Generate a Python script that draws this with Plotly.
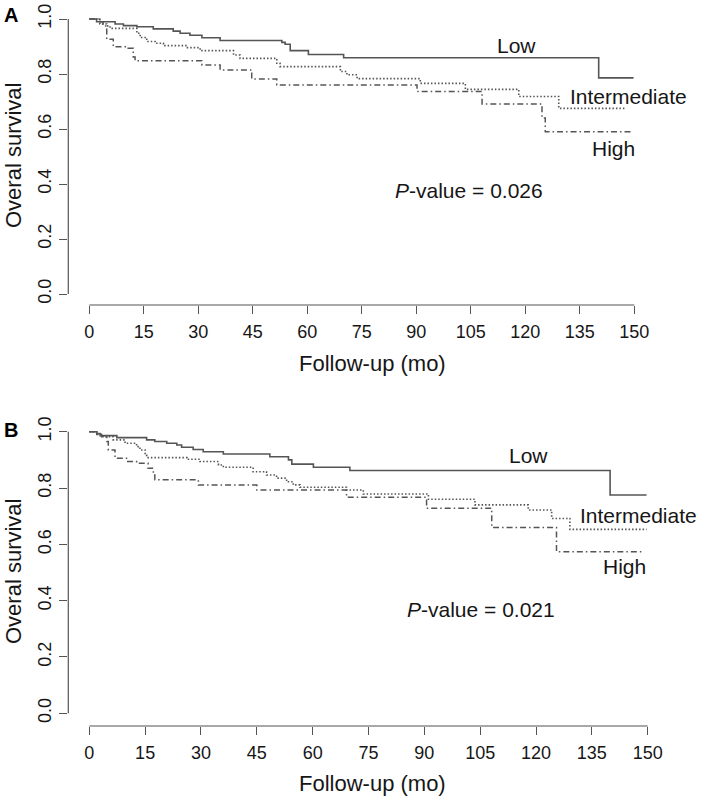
import plotly.graph_objects as go

W, H = 709, 798

# ---------------- data ----------------
# Panel A
a_low_t = [0, 2.0, 7.1, 9.4, 13.1, 17.6, 23.1, 25.0, 27.7, 31.0, 36.0, 53.0, 53.9, 55.3, 60.3, 70.0, 140.2, 149.8]
a_low_s = [1.0, 0.990, 0.982, 0.976, 0.972, 0.964, 0.956, 0.948, 0.941, 0.932, 0.922, 0.915, 0.908, 0.885, 0.871, 0.859, 0.786, 0.786]

a_int_t = [0, 2.9, 4.8, 5.7, 13.1, 14.0, 15.8, 18.1, 20.4, 26.8, 30.5, 39.7, 41.5, 51.6, 52.5, 69.1, 70.9, 73.7, 91.1, 103.5, 118.2, 129.2, 147.6]
a_int_s = [1.0, 0.982, 0.975, 0.966, 0.948, 0.933, 0.918, 0.912, 0.903, 0.896, 0.885, 0.869, 0.857, 0.839, 0.827, 0.809, 0.797, 0.783, 0.766, 0.744, 0.718, 0.675, 0.675]

a_high_t = [0, 2.9, 3.8, 4.8, 6.6, 10.7, 12.1, 12.6, 31.0, 36.0, 44.7, 51.6, 90.2, 108.1, 124.6, 125.5, 149.0]
a_high_s = [1.0, 0.990, 0.975, 0.926, 0.899, 0.894, 0.862, 0.848, 0.833, 0.815, 0.782, 0.760, 0.736, 0.691, 0.640, 0.590, 0.590]

# Panel B
b_low_t = [0, 2.0, 2.9, 7.4, 15.4, 17.6, 20.8, 23.5, 24.8, 27.9, 30.6, 36.0, 48.5, 53.5, 54.4, 60.2, 70.0, 139.9, 149.7]
b_low_s = [1.0, 0.993, 0.986, 0.979, 0.971, 0.965, 0.959, 0.953, 0.945, 0.937, 0.929, 0.921, 0.911, 0.900, 0.885, 0.874, 0.862, 0.775, 0.775]

b_int_t = [0, 2.0, 3.8, 6.4, 9.6, 12.7, 13.6, 15.0, 15.4, 26.2, 29.7, 34.7, 36.0, 44.0, 47.6, 50.3, 53.0, 54.8, 56.6, 69.1, 73.6, 91.1, 103.6, 117.9, 124.2, 129.1, 149.7]
b_int_s = [1.0, 0.990, 0.982, 0.971, 0.959, 0.947, 0.935, 0.917, 0.908, 0.902, 0.894, 0.882, 0.874, 0.858, 0.846, 0.835, 0.822, 0.811, 0.803, 0.793, 0.779, 0.760, 0.740, 0.722, 0.692, 0.653, 0.653]

b_high_t = [0, 2.0, 3.3, 4.7, 5.1, 6.9, 10.0, 12.7, 15.8, 17.2, 17.6, 29.3, 45.0, 69.1, 90.6, 108.1, 125.5, 148.4]
b_high_s = [1.0, 0.990, 0.982, 0.965, 0.935, 0.906, 0.894, 0.888, 0.870, 0.846, 0.829, 0.811, 0.793, 0.767, 0.728, 0.660, 0.574, 0.574]

x_ticks = [0, 15, 30, 45, 60, 75, 90, 105, 120, 135, 150]
y_ticks = [0.0, 0.2, 0.4, 0.6, 0.8, 1.0]
y_tick_text = ["0.0", "0.2", "0.4", "0.6", "0.8", "1.0"]
group_names = ["Low", "Intermediate", "High"]
p_values = ["0.026", "0.021"]
panel_letters = ["A", "B"]

# ---------------- geometry (pixels) ----------------
geom = [
    dict(t0=89.3, t150=634.3, s0=294.0, s1=19.0, yax_px=68.3, xax_py=305.0, right_px=642.0, top_py=13.0,
         lab=[(117.6, 0.905), (148.4, 0.717), (144.2, 0.530)], pv=(104.5, 0.378),
         ytitle_py=156, xtitle_py=363, letter_py=15),
    dict(t0=89.3, t150=647.7, s0=713.3, s1=431.7, yax_px=68.3, xax_py=726.0, right_px=656.0, top_py=426.0,
         lab=[(117.9, 0.915), (147.5, 0.704), (143.9, 0.521)], pv=(105.2, 0.369),
         ytitle_py=572, xtitle_py=783, letter_py=430),
]

FONT = "Liberation Sans, Arial, Helvetica, sans-serif"
TXT = "#161616"
AX = "#555555"
LINE = "#555555"

series = [
    [(a_low_t, a_low_s), (a_int_t, a_int_s), (a_high_t, a_high_s)],
    [(b_low_t, b_low_s), (b_int_t, b_int_s), (b_high_t, b_high_s)],
]
dashes = ["solid", "1.5px,2px", "6px,3px,1.5px,3px"]
widths = [1.6, 1.6, 1.5]

fig = go.Figure()
annotations = []
shapes = []
layout_axes = {}

for i, g in enumerate(geom):
    xs = "x" if i == 0 else "x2"
    ys = "y" if i == 0 else "y2"
    xk = "xaxis" if i == 0 else "xaxis2"
    yk = "yaxis" if i == 0 else "yaxis2"
    kx = (g["t150"] - g["t0"]) / 150.0
    ky = (g["s0"] - g["s1"])
    xr = [(g["yax_px"] - g["t0"]) / kx, (g["right_px"] - g["t0"]) / kx]
    yr = [(g["s0"] - g["xax_py"]) / ky, (g["s0"] - g["top_py"]) / ky]
    xd = [g["yax_px"] / W, g["right_px"] / W]
    yd = [1 - g["xax_py"] / H, 1 - g["top_py"] / H]

    for j, (t, s) in enumerate(series[i]):
        fig.add_trace(go.Scatter(
            x=t, y=s, mode="lines", line_shape="hv",
            line=dict(color=LINE, width=widths[j], dash=dashes[j]),
            xaxis=xs, yaxis=ys, showlegend=False, hoverinfo="skip"))

    layout_axes[xk] = dict(
        domain=xd, range=xr, anchor=ys, showgrid=False, zeroline=False, showline=False,
        ticks="outside", ticklen=8, tickwidth=1, tickcolor=AX,
        tickvals=x_ticks, ticktext=[str(v) for v in x_ticks],
        tickfont=dict(family=FONT, size=18, color=TXT), automargin=False,
        ticklabelstandoff=2, fixedrange=True)
    layout_axes[yk] = dict(
        domain=yd, range=yr, anchor=xs, showgrid=False, zeroline=False, showline=False,
        ticks="outside", ticklen=8, tickwidth=1, tickcolor=AX,
        tickvals=y_ticks, ticktext=y_tick_text, tickangle=-90,
        tickfont=dict(family=FONT, size=18, color=TXT), automargin=False,
        ticklabelstandoff=1, fixedrange=True)

    # R-style detached axis lines spanning the tick range only
    shapes.append(dict(type="line", xref=xs, yref="paper", x0=x_ticks[0], x1=x_ticks[-1],
                       y0=yd[0], y1=yd[0], line=dict(color=AX, width=1.2)))
    shapes.append(dict(type="line", xref="paper", yref=ys, x0=xd[0], x1=xd[0],
                       y0=y_ticks[0], y1=y_ticks[-1], line=dict(color=AX, width=1.2)))

    # group labels
    for name, (lx, ly) in zip(group_names, g["lab"]):
        annotations.append(dict(text=name, x=lx, y=ly, xref=xs, yref=ys, showarrow=False,
                                xanchor="center", yanchor="middle",
                                font=dict(family=FONT, size=21, color=TXT)))
    annotations.append(dict(text="<i>P</i>-value = " + p_values[i], x=g["pv"][0], y=g["pv"][1],
                            xref=xs, yref=ys, showarrow=False, xanchor="center", yanchor="middle",
                            font=dict(family=FONT, size=21, color=TXT)))
    # axis titles
    annotations.append(dict(text="Overal survival", x=13 / W, y=1 - g["ytitle_py"] / H,
                            xref="paper", yref="paper", showarrow=False, textangle=-90,
                            xanchor="center", yanchor="middle",
                            font=dict(family=FONT, size=22, color=TXT)))
    annotations.append(dict(text="Follow-up (mo)", x=373 / W, y=1 - g["xtitle_py"] / H,
                            xref="paper", yref="paper", showarrow=False,
                            xanchor="center", yanchor="middle",
                            font=dict(family=FONT, size=22, color=TXT)))
    annotations.append(dict(text="<b>" + panel_letters[i] + "</b>", x=11 / W, y=1 - g["letter_py"] / H,
                            xref="paper", yref="paper", showarrow=False,
                            xanchor="center", yanchor="middle",
                            font=dict(family=FONT, size=20, color="#000000")))

fig.update_layout(
    template="none",
    width=W, height=H, autosize=False,
    margin=dict(l=0, r=0, t=0, b=0, pad=0),
    paper_bgcolor="white", plot_bgcolor="white",
    showlegend=False,
    annotations=annotations, shapes=shapes,
    **layout_axes,
)

fig.write_html("out.html",
               config={"displayModeBar": False, "staticPlot": True},
               post_script="document.body.style.margin='0';document.body.style.overflow='hidden';")
